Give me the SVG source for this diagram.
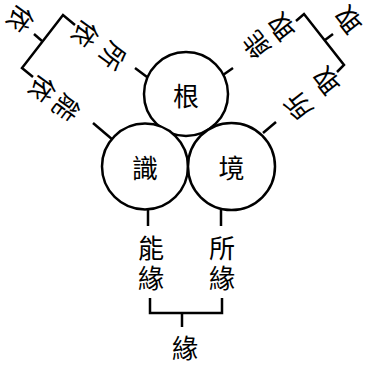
<svg xmlns="http://www.w3.org/2000/svg" width="365" height="366" viewBox="0 0 365 366">
<style>
.c{fill:#fff;stroke:#000;stroke-width:2.5}
.l{fill:none;stroke:#000;stroke-width:2.5;stroke-linecap:butt}
text{font-family:"Noto Sans CJK TC","Noto Sans CJK SC",sans-serif;font-size:26px;fill:#000;text-anchor:middle;dominant-baseline:central}
.v{writing-mode:vertical-rl;letter-spacing:4px}
</style>
<rect width="365" height="366" fill="#fff"/>
<g id="connectors">
<path class="l" d="M135,68 L147,77"/>
<path class="l" d="M75,25 L63,15 L22,68 L33,77"/>
<path class="l" d="M42,41 L34,34"/>
<path class="l" d="M93,123 L113,140"/>
<path class="l" d="M223,75 L233,68"/>
<path class="l" d="M296,21 L304,14 L344,65 L337,72"/>
<path class="l" d="M325,40 L333,34"/>
<path class="l" d="M263,133 L276,122"/>
<path class="l" d="M148,209 V226"/>
<path class="l" d="M221,209 V226"/>
<path class="l" d="M150,298 V313 H222 V298"/>
<path class="l" d="M182,313 V327"/>
</g>
<g id="node-gen"><circle class="c" cx="186" cy="94" r="42"/><text x="186" y="94">根</text></g>
<g id="node-shi"><circle class="c" cx="145" cy="166.5" r="43"/><text x="145" y="166.5">識</text></g>
<g id="node-jing"><circle class="c" cx="231.5" cy="166.5" r="43.5"/><text x="231.5" y="166.5">境</text></g>
<g id="label-left">
<text x="87" y="35" transform="rotate(126 87 35)">依</text>
<text x="114" y="57" transform="rotate(126 114 57)">所</text>
<text x="44" y="90" transform="rotate(126 44 90)">依</text>
<text x="68" y="109" transform="rotate(126 68 109)">能</text>
<text x="22" y="20" transform="rotate(126 22 20)">依</text>
</g>
<g id="label-right">
<text x="280" y="28" transform="rotate(-128 280 28)">取</text>
<text x="255" y="46" transform="rotate(-128 255 46)">能</text>
<text x="325" y="82" transform="rotate(-128 325 82)">取</text>
<text x="297" y="107" transform="rotate(-128 297 107)">所</text>
<text x="347" y="21" transform="rotate(-128 347 21)">取</text>
</g>
<g id="label-bottom">
<text class="v" x="151" y="265">能緣</text>
<text class="v" x="222" y="265">所緣</text>
<text x="185" y="346">緣</text>
</g>
</svg>
